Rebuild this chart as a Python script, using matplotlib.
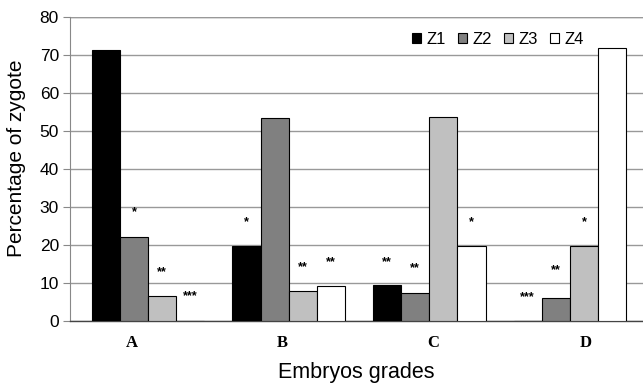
import matplotlib
matplotlib.use("Agg")
import matplotlib.pyplot as plt
import numpy as np

categories = ["A", "B", "C", "D"]
series_names = ["Z1", "Z2", "Z3", "Z4"]
z1 = [71.3, 19.8, 9.4, 0.0]
z2 = [22.2, 53.3, 7.5, 6.0]
z3 = [6.6, 7.9, 53.6, 19.8]
z4 = [0.0, 9.2, 19.8, 71.8]
colors = ["#000000", "#808080", "#c0c0c0", "#ffffff"]

# significance marks: (category index, series index, text, y value)
sig_group = [0, 0, 0, 1, 1, 1, 2, 2, 2, 3, 3, 3]
sig_series = [1, 2, 3, 0, 2, 3, 0, 1, 3, 0, 1, 2]
sig_text = ["*", "**", "***", "*", "**", "**", "**", "**", "*", "***", "**", "*"]
sig_y = [28.7, 12.9, 6.6, 26.0, 14.2, 15.5, 15.5, 13.9, 26.0, 6.3, 13.4, 26.0]

# category label positions (offset from bar groups, as in original)
label_pos = [-0.114, 0.954, 2.028, 3.11]

plt.rcParams['font.family'] = ['Liberation Sans', 'DejaVu Sans']

fig = plt.figure(figsize=(6.43, 3.83), dpi=100)
ax = fig.add_axes([70/643, 1 - 321/383, 1 - 70/643, (321 - 17)/383])

data = [z1, z2, z3, z4]
w = 0.2
x = np.arange(len(categories))
for i, (vals, c, name) in enumerate(zip(data, colors, series_names)):
    ax.bar(x + (i - 1.5) * w, vals, width=w, color=c, edgecolor="black",
           linewidth=0.8, label=name, zorder=3)

for g, s, t, yv in zip(sig_group, sig_series, sig_text, sig_y):
    ax.text(g + (s - 1.5) * w, yv, t, ha="center", va="center", fontsize=9,
            fontweight="bold", zorder=4)

ax.set_xlim(-0.555, 3.52)
ax.set_ylim(0, 80)
ax.set_yticks(range(0, 81, 10))
ax.tick_params(axis="y", labelsize=12.5, length=5, color="#888888", pad=3)
ax.yaxis.grid(True, color="#999999", linewidth=1.0, zorder=0)
ax.set_axisbelow(True)

ax.set_xticks(label_pos)
ax.set_xticklabels(categories, fontfamily="Liberation Serif", fontweight="bold",
                   fontsize=12)
ax.tick_params(axis="x", length=0, pad=10)

for sp in ["top", "right"]:
    ax.spines[sp].set_visible(False)
ax.spines["left"].set_color("#888888")
ax.spines["bottom"].set_color("#444444")
ax.spines["bottom"].set_linewidth(1.0)
ax.axhline(80, color="#999999", linewidth=1.0, zorder=0)

ax.set_ylabel("Percentage of zygote", fontsize=15)
ax.yaxis.set_label_coords(-0.076, 0.535)
ax.set_xlabel("Embryos grades", fontsize=15.5, labelpad=8)

leg = ax.legend(loc="upper right", bbox_to_anchor=(0.915, 0.985), ncol=4,
                frameon=False, fontsize=12, handlelength=0.55, handleheight=0.55,
                handletextpad=0.35, columnspacing=0.7, borderaxespad=0.2)

fig.savefig("out.png", dpi=100)
